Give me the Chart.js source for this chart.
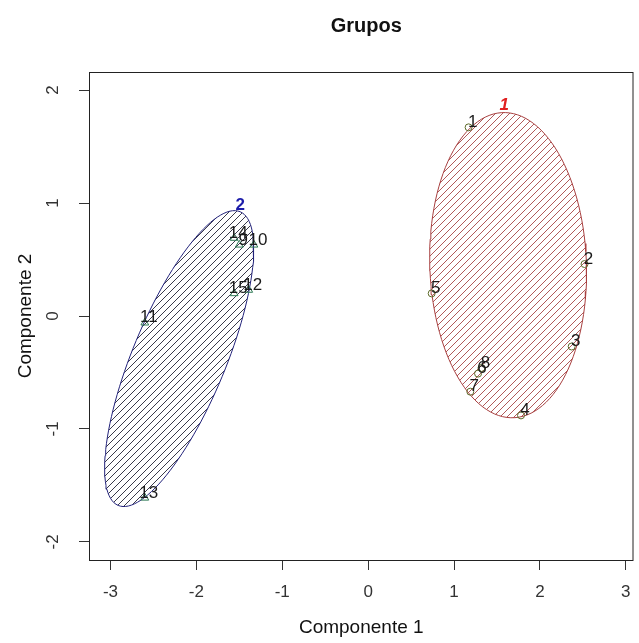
<!DOCTYPE html>
<html>
<head>
<meta charset="utf-8">
<title>Grupos</title>
<script src="https://cdn.jsdelivr.net/npm/chart.js@4.4.1/dist/chart.umd.min.js"></script>
<style>
  body { margin: 0; background: #fff; }
  canvas { display: block; }
</style>
</head>
<body>
<canvas id="grafico" width="639" height="643"></canvas>
<script>
// grupo 1 (circulos)
const grupo1Etiquetas = ['1', '2', '3', '4', '5', '6', '7', '8'];
const grupo1X = [1.17, 2.52, 2.37, 1.78, 0.74, 1.28, 1.19, 1.32];
const grupo1Y = [1.67, 0.46, -0.27, -0.88, 0.20, -0.51, -0.67, -0.46];

// grupo 2 (triangulos)
const grupo2Etiquetas = ['9', '10', '11', '12', '13', '14', '15'];
const grupo2X = [-1.50, -1.33, -2.60, -1.39, -2.60, -1.56, -1.56];
const grupo2Y = [0.63, 0.63, -0.06, 0.23, -1.61, 0.69, 0.20];

// elipses: centro, semieje a, semieje b (unidades de los datos)
const elipse1Centro = [1.63, 0.45];
const elipse1EjeA = [-0.08, 1.35];
const elipse1EjeB = [0.91, 0.05];
const elipse2Centro = [-2.20, -0.377];
const elipse2EjeA = [0.71, 1.30];
const elipse2EjeB = [0.50, -0.16];

const ticksX = [-3, -2, -1, 0, 1, 2, 3];
const ticksY = [-2, -1, 0, 1, 2];

function puntos(xs, ys) {
    return xs.map((x, i) => ({ x: x, y: ys[i] }));
}

function contorno(c, a, b) {
    const out = [];
    for (let i = 0; i <= 120; i++) {
        const t = i / 120 * Math.PI * 2;
        out.push({
            x: c[0] + Math.cos(t) * a[0] + Math.sin(t) * b[0],
            y: c[1] + Math.cos(t) * a[1] + Math.sin(t) * b[1]
        });
    }
    return out;
}

const canvas = document.getElementById('grafico');
const ctx = canvas.getContext('2d');

function rayado(color) {
    const c = document.createElement('canvas');
    c.width = 7; c.height = 7;
    const g = c.getContext('2d');
    g.strokeStyle = color;
    g.lineWidth = 1;
    g.beginPath();
    g.moveTo(-1, 8); g.lineTo(8, -1);
    g.moveTo(-1, 1); g.lineTo(1, -1);
    g.moveTo(6, 8); g.lineTo(8, 6);
    g.stroke();
    return ctx.createPattern(c, 'repeat');
}

const fuente = '"Liberation Sans", Arial, sans-serif';

// etiquetas, caja y titulo
const extras = {
    id: 'extras',
    afterDatasetsDraw(chart) {
        const c = chart.ctx;
        const xs = chart.scales.x, ys = chart.scales.y;
        const area = chart.chartArea;

        c.save();
        c.fillStyle = '#1a1a1a';
        c.font = '17px ' + fuente;
        c.textAlign = 'center';
        c.textBaseline = 'middle';
        const poner = (xv, yv, et) => {
            et.forEach((t, i) => {
                c.fillText(t, xs.getPixelForValue(xv[i]) + 4, ys.getPixelForValue(yv[i]) - 5);
            });
        };
        poner(grupo1X, grupo1Y, grupo1Etiquetas);
        poner(grupo2X, grupo2Y, grupo2Etiquetas);

        // numero de grupo en lo alto de cada elipse
        c.font = 'italic bold 17px ' + fuente;
        c.fillStyle = '#e02020';
        c.fillText('1', xs.getPixelForValue(elipse1Centro[0] + elipse1EjeA[0]) + 3,
            ys.getPixelForValue(elipse1Centro[1] + elipse1EjeA[1]) - 7);
        c.fillStyle = '#1c1caa';
        c.font = 'bold 17px ' + fuente;
        c.fillText('2', xs.getPixelForValue(elipse2Centro[0] + elipse2EjeA[0]),
            ys.getPixelForValue(elipse2Centro[1] + elipse2EjeA[1]) - 6);

        // caja
        c.strokeStyle = '#222';
        c.lineWidth = 1;
        c.strokeRect(area.left + 0.5, area.top + 0.5, area.right - area.left - 1, area.bottom - area.top);

        // titulo
        c.fillStyle = '#111';
        c.font = 'bold 20px ' + fuente;
        c.fillText('Grupos', (area.left + area.right) / 2 + 5, 26);

        // etiquetas eje y (verticales)
        c.fillStyle = '#333';
        c.font = '17px ' + fuente;
        ys.ticks.forEach(t => {
            c.save();
            c.translate(53, ys.getPixelForValue(t.value));
            c.rotate(-Math.PI / 2);
            c.fillText(String(t.value), 0, 0);
            c.restore();
        });
        c.restore();
    }
};

new Chart(ctx, {
    type: 'scatter',
    data: {
        datasets: [
            {
                data: puntos(grupo1X, grupo1Y),
                pointStyle: 'circle',
                pointRadius: 3.5,
                borderColor: '#5d6b2a',
                backgroundColor: 'rgba(0,0,0,0)',
                borderWidth: 1
            },
            {
                data: puntos(grupo2X, grupo2Y),
                pointStyle: 'triangle',
                pointRadius: 4.5,
                borderColor: '#2f7a55',
                backgroundColor: 'rgba(0,0,0,0)',
                borderWidth: 1
            },
            {
                type: 'line',
                data: contorno(elipse1Centro, elipse1EjeA, elipse1EjeB),
                borderColor: '#a84040',
                borderWidth: 1,
                backgroundColor: rayado('#b05a5a'),
                fill: 'shape',
                pointRadius: 0,
                tension: 0
            },
            {
                type: 'line',
                data: contorno(elipse2Centro, elipse2EjeA, elipse2EjeB),
                borderColor: '#22227a',
                borderWidth: 1,
                backgroundColor: rayado('#3a3a4a'),
                fill: 'shape',
                pointRadius: 0,
                tension: 0
            }
        ]
    },
    options: {
        responsive: false,
        animation: false,
        layout: { padding: { top: 72, right: 0, left: 0, bottom: 0 } },
        plugins: {
            legend: { display: false },
            tooltip: { enabled: false }
        },
        scales: {
            x: {
                type: 'linear',
                min: -3.25,
                max: 3.09,
                afterFit: s => { s.height = 83; s.paddingLeft = 0; s.paddingRight = 0; },
                afterBuildTicks: s => { s.ticks = ticksX.map(v => ({ value: v })); },
                grid: { drawOnChartArea: false, tickLength: 10, color: '#333' },
                border: { display: false },
                ticks: {
                    includeBounds: false,
                    color: '#333',
                    padding: 12,
                    font: { family: fuente, size: 17 }
                },
                title: {
                    display: true,
                    text: 'Componente 1',
                    color: '#111',
                    font: { family: fuente, size: 19 },
                    padding: { top: 4, bottom: 4 }
                }
            },
            y: {
                type: 'linear',
                min: -2.16,
                max: 2.16,
                afterFit: s => { s.width = 89; s.paddingTop = 0; s.paddingBottom = 0; },
                afterBuildTicks: s => { s.ticks = ticksY.map(v => ({ value: v })); },
                grid: { drawOnChartArea: false, tickLength: 10, color: '#333' },
                border: { display: false },
                ticks: { display: false, includeBounds: false },
                title: {
                    display: true,
                    text: 'Componente 2',
                    color: '#111',
                    font: { family: fuente, size: 19 },
                    padding: { top: 14, bottom: 4 }
                }
            }
        }
    },
    plugins: [extras]
});
</script>
</body>
</html>
